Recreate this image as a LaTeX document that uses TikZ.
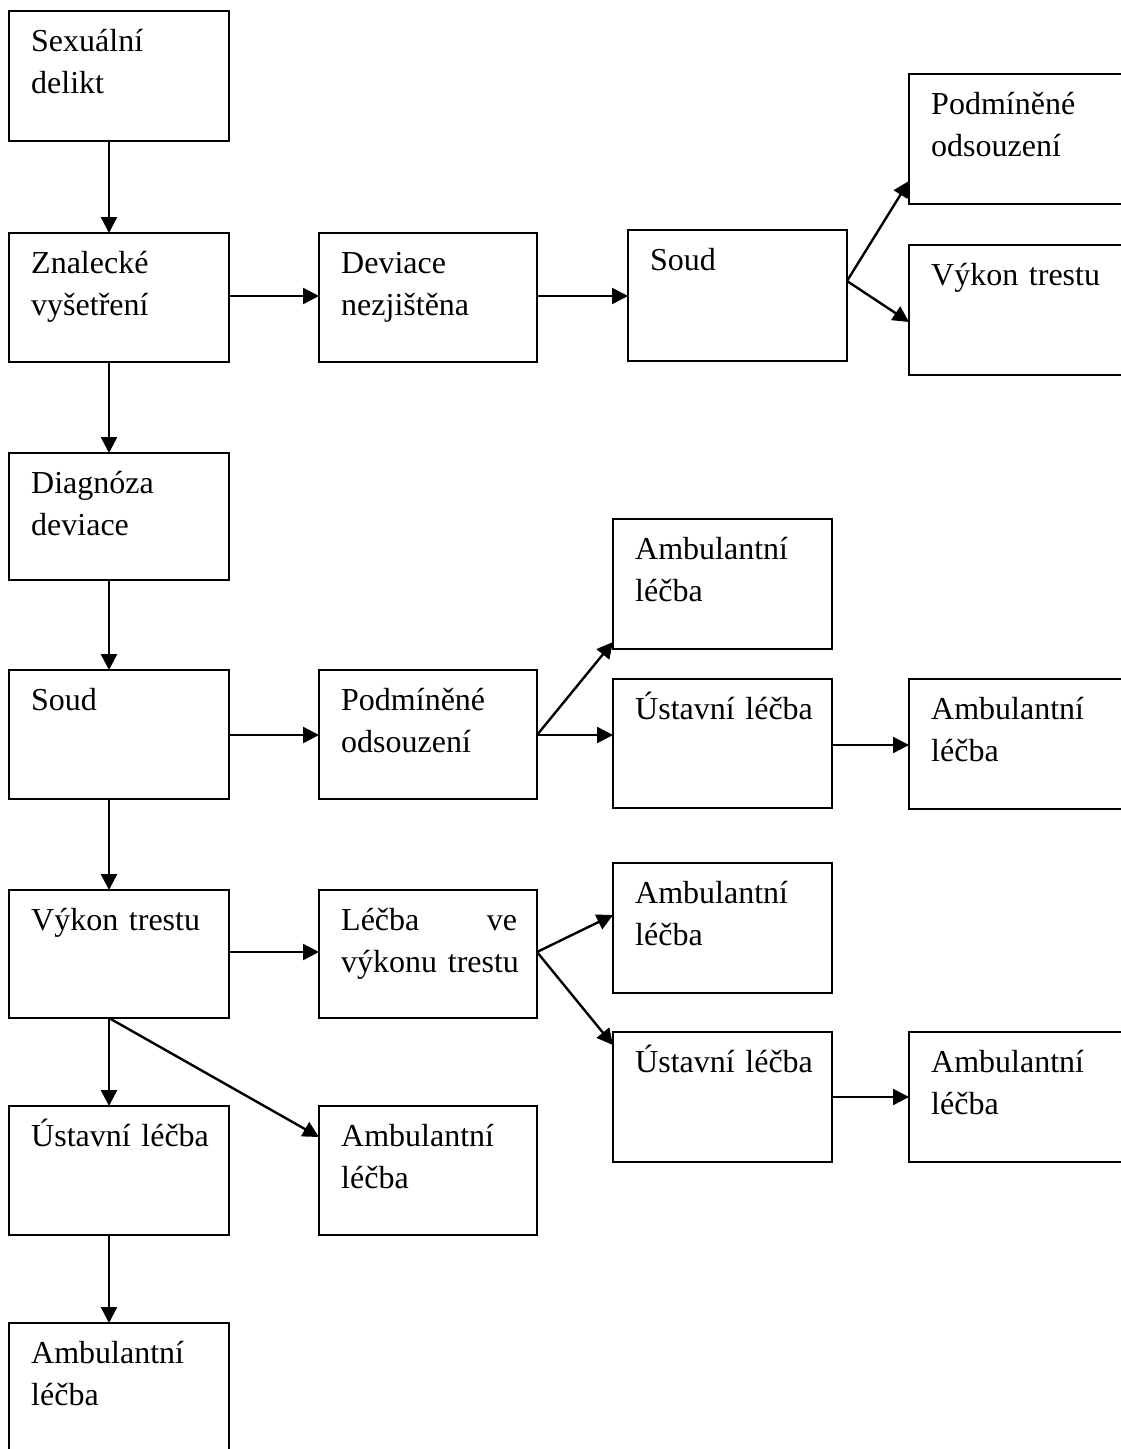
\documentclass[tikz,border=0pt]{standalone}
\usepackage{fontspec}
\setmainfont{Liberation Serif}
\usetikzlibrary{arrows.meta,calc}
\tikzset{
  box/.style={draw, line width=2pt, anchor=north west, inner sep=0pt, outer sep=0pt},
  lbl/.style={anchor=base west, inner sep=0pt, align=left, text width=#1,
    font=\fontsize{32pt}{42pt}\selectfont},
  lbl/.default=200pt,
  arr/.style={line width=2.4pt, -{Triangle[length=16pt,width=16pt]}}
}
\newcommand\mybox[7][200pt]{%
  \node[box, minimum width=#5pt, minimum height=#6pt] (#2) at (#3,#4) {};
  \node[lbl=#1] (#2t) at ($(#2.north west)+(22,40)$) {#7};
}
\begin{document}
\begin{tikzpicture}[x=1pt,y=-1pt]
\clip (0,0) rectangle (1121,1449);
\fill[white] (0,0) rectangle (1121,1449);
% column 1
\mybox{sd}{9}{11}{220}{130}{Sexuální\\delikt}
\mybox{zn}{9}{233}{220}{129}{Znalecké\\vyšetření}
\mybox{dg}{9}{453}{220}{127}{Diagnóza\\deviace}
\mybox{soa}{9}{670}{220}{129}{Soud}
\mybox{vta}{9}{890}{220}{128}{Výkon trestu}
\mybox{usa}{9}{1106}{220}{129}{Ústavní léčba}
\mybox{ama}{9}{1323}{220}{200}{Ambulantní\\léčba}
% column 2
\mybox{dn}{319}{233}{218}{129}{Deviace\\nezjištěna}
\mybox{pob}{319}{670}{218}{129}{Podmíněné\\odsouzení}
\mybox[176pt]{lv}{319}{890}{218}{128}{Léčba\hfill ve\\\mbox{výkonu trestu}}
\mybox{amb}{319}{1106}{218}{129}{Ambulantní\\léčba}
% column 3
\mybox{soc}{628}{230}{219}{131}{Soud}
\mybox{amc}{613}{519}{219}{130}{Ambulantní\\léčba}
\mybox{usc}{613}{679}{219}{129}{Ústavní léčba}
\mybox{amd}{613}{863}{219}{130}{Ambulantní\\léčba}
\mybox{usd}{613}{1032}{219}{130}{Ústavní léčba}
% column 4
\mybox{poe}{909}{74}{230}{130}{Podmíněné\\odsouzení}
\mybox{vte}{909}{245}{230}{130}{Výkon trestu}
\mybox{ame}{909}{679}{230}{130}{Ambulantní\\léčba}
\mybox{amf}{909}{1032}{230}{130}{Ambulantní\\léčba}
% connectors
\draw[arr] ($(sd.south west)+(100,0)$) -- ($(zn.north west)+(100,0)$);
\draw[arr] ($(zn.north east)+(0,63)$) -- ($(dn.north west)+(0,63)$);
\draw[arr] ($(dn.north east)+(0,63)$) -- ($(soc.north west)+(0,66)$);
\coordinate (sox) at ($(soc.north east)+(0,51)$);
\draw[arr] (sox) -- ($(poe.north west)+(0,107)$);
\draw[arr] (sox) -- ($(vte.north west)+(0,77)$);
\draw[arr] ($(zn.south west)+(100,0)$) -- ($(dg.north west)+(100,0)$);
\draw[arr] ($(dg.south west)+(100,0)$) -- ($(soa.north west)+(100,0)$);
\draw[arr] ($(soa.north east)+(0,65)$) -- ($(pob.north west)+(0,65)$);
\coordinate (pox) at ($(pob.north east)+(0,65)$);
\draw[arr] (pox) -- ($(amc.south west)+(0,-7)$);
\draw[arr] (pox) -- ($(usc.north west)+(0,56)$);
\draw[arr] ($(usc.north east)+(0,66)$) -- ($(ame.north west)+(0,66)$);
\draw[arr] ($(soa.south west)+(100,0)$) -- ($(vta.north west)+(100,0)$);
\draw[arr] ($(vta.north east)+(0,62)$) -- ($(lv.north west)+(0,62)$);
\coordinate (lvx) at ($(lv.north east)+(0,62)$);
\draw[arr] (lvx) -- ($(amd.north west)+(0,52)$);
\draw[arr] (lvx) -- ($(usd.north west)+(0,13)$);
\draw[arr] ($(usd.north east)+(0,65)$) -- ($(amf.north west)+(0,65)$);
\coordinate (vtx) at ($(vta.south west)+(100,0)$);
\draw[arr] (vtx) -- ($(usa.north west)+(100,0)$);
\draw[arr] (vtx) -- ($(amb.north west)+(0,31)$);
\draw[arr] ($(usa.south west)+(100,0)$) -- ($(ama.north west)+(100,0)$);
\end{tikzpicture}
\end{document}
